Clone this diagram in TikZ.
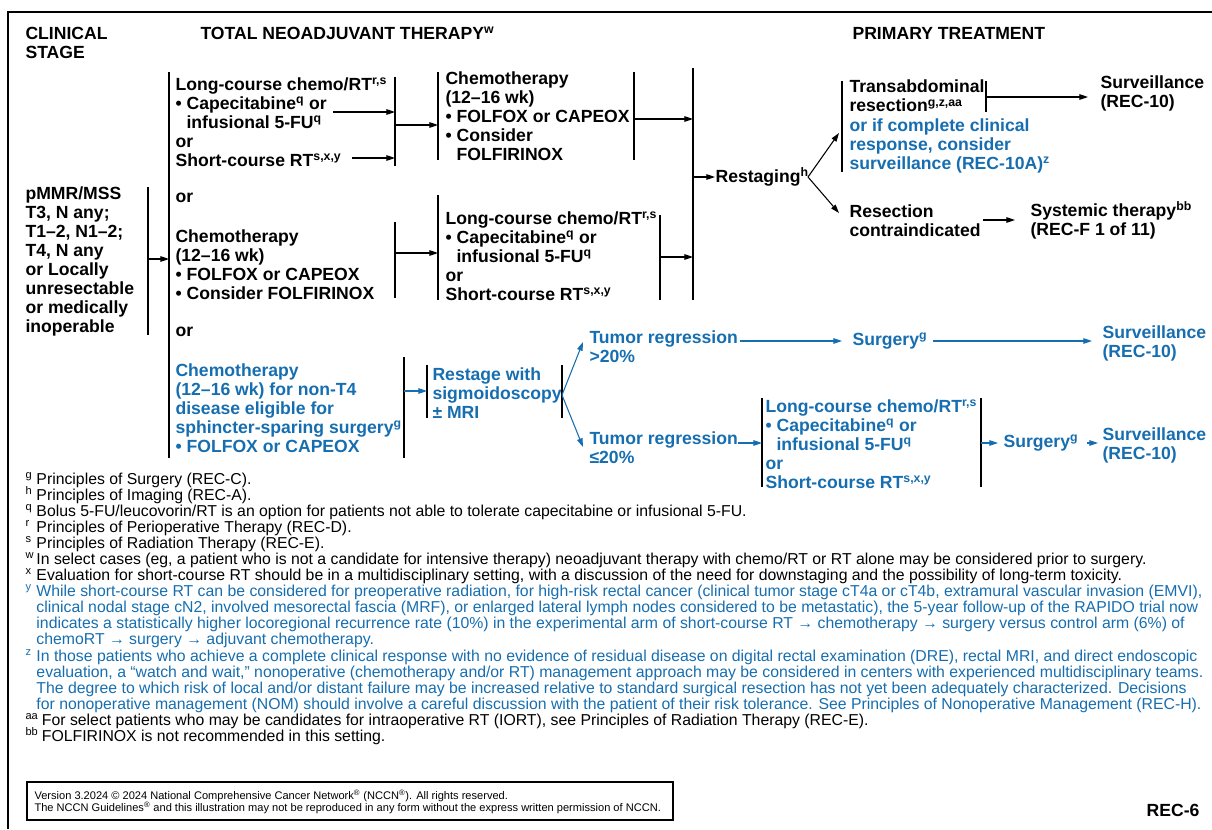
\documentclass[tikz,border=0pt]{standalone}
\usepackage{fontspec}
\setmainfont{Liberation Sans}
\usetikzlibrary{arrows.meta}
\definecolor{nccnblue}{RGB}{22,110,176}
\newcommand{\bul}{\textbullet\ }
\newcommand{\ind}{\hphantom{\textbullet\ }}
\newcommand{\fm}[1]{\makebox[8.2pt][l]{\textsuperscript{#1}}}
\newcommand{\fmw}[1]{\textsuperscript{#1}\hspace{2.6pt}}
\newcommand{\fnind}{\hspace*{8.2pt}}
\newcommand{\fnfont}{\fontsize{11.85}{12.05}\selectfont\lineskiplimit=-20pt\relax}

\begin{document}
\begin{tikzpicture}[x=0.75pt, y=-0.75pt, line width=0.8pt,
  txt/.style={anchor=west, align=left, inner sep=0pt, font=\fontsize{13.2}{14.3}\selectfont\bfseries},
  btxt/.style={txt, text=nccnblue},
  arr/.style={-{Triangle[length=6.5pt,width=4.2pt]}},
  bl/.style={draw=nccnblue}]
\useasboundingbox (0,0) rectangle (1212,829);

% frame
\draw[line width=1pt] (8,829) -- (8,12) -- (1212,12);

% headers
\node[txt] (hclin) at (25,42.5) {CLINICAL\\STAGE};
\node[txt] (htna) at (200,33) {TOTAL NEOADJUVANT THERAPY\textsuperscript{w}};
\node[txt] (hprim) at (852,33) {PRIMARY TREATMENT};

% clinical stage
\node[txt] (stage) at (25,261.5) {pMMR/MSS\\T3, N any;\\T1--2, N1--2;\\T4, N any\\or Locally\\unresectable\\or medically\\inoperable};
\draw (148,187) -- (148,335);
\draw (169,72) -- (169,458);
\coordinate (stg) at (148,259);
\coordinate (opt) at (169,259);
\draw[arr] (stg) -- (opt);

% option 1
\node[txt] (lc1) at (175,122) {Long-course chemo/RT\textsuperscript{r,s}\\\bul Capecitabine\textsuperscript{q} or\\\ind infusional 5-FU\textsuperscript{q}\\or\\Short-course RT\textsuperscript{s,x,y}};
\draw (395,77) -- (395,166);
\coordinate (cap) at (333,112);
\coordinate (scrt) at (352,158);
\draw[arr] (cap) -- (cap -| 395,0);
\draw[arr] (scrt) -- (scrt -| 395,0);
\node[txt] (chemo1) at (445,116) {Chemotherapy\\(12--16 wk)\\\bul FOLFOX or CAPEOX\\\bul Consider\\\ind FOLFIRINOX};
\draw (438,72) -- (438,160);
\draw (634,72) -- (634,160);
\coordinate (lc1r) at (395,125);
\coordinate (chemo1l) at (438,125);
\draw[arr] (lc1r) -- (chemo1l);

% option 2
\node[txt] (or1) at (175,198) {or};
\node[txt] (chemo2) at (175,265) {Chemotherapy\\(12--16 wk)\\\bul FOLFOX or CAPEOX\\\bul Consider FOLFIRINOX};
\draw (395,222) -- (395,298);
\node[txt] (lc2) at (445,256) {Long-course chemo/RT\textsuperscript{r,s}\\\bul Capecitabine\textsuperscript{q} or\\\ind infusional 5-FU\textsuperscript{q}\\or\\Short-course RT\textsuperscript{s,x,y}};
\draw (438,195) -- (438,300);
\draw (660,215) -- (660,300);
\coordinate (chemo2r) at (395,253);
\coordinate (lc2l) at (438,253);
\draw[arr] (chemo2r) -- (lc2l);

% restaging
\draw (693,68) -- (693,300);
\coordinate (chemo1r) at (634,119);
\coordinate (lc2r) at (660,257);
\draw[arr] (chemo1r) -- (chemo1r -| 693,0);
\draw[arr] (lc2r) -- (lc2r -| 693,0);
\node[txt] (restg) at (715,177) {Restaging\textsuperscript{h}};
\coordinate (collect) at (693,177);
\draw[arr] (collect) -- (restg.west);
\coordinate (fork) at (808,177);
\draw[arr] (fork) -- (839,133);
\draw[arr] (fork) -- (839,213);

% primary treatment
\node[txt] (transab) at (849,126.5) {Transabdominal\\resection\textsuperscript{g,z,aa}\\\color{nccnblue}or if complete clinical\\\color{nccnblue}response, consider\\\color{nccnblue}surveillance (REC-10A)\textsuperscript{z}};
\draw (842,81) -- (842,172);
\draw (986,81) -- (986,112);
\node[txt] (surv1) at (1100,93.5) {Surveillance\\(REC-10)};
\coordinate (transr) at (986,97);
\draw[arr] (transr) -- (1088,97);
\node[txt] (rci) at (849,220.5) {Resection\\contraindicated};
\node[txt] (syst) at (1030,220.5) {Systemic therapy\textsuperscript{bb}\\(REC-F 1 of 11)};
\coordinate (rcir) at (983,220);
\draw[arr] (rcir) -- (1015,220);

% option 3 (blue)
\node[txt] (or2) at (175,332) {or};
\node[btxt] (chemo3) at (175,408) {Chemotherapy\\(12--16 wk) for non-T4\\disease eligible for\\sphincter-sparing surgery\textsuperscript{g}\\\bul FOLFOX or CAPEOX};
\draw (404,357) -- (404,458);
\node[btxt] (rstg2) at (432,393) {Restage with\\sigmoidoscopy\\± MRI};
\draw (427,365) -- (427,418);
\draw (562,365) -- (562,418);
\coordinate (chemo3r) at (404,391);
\coordinate (rstg2l) at (427,391);
\draw[arr, bl] (chemo3r) -- (rstg2l);
\coordinate (fork2) at (562,395);
\draw[arr, bl] (fork2) -- (583,342);
\draw[arr, bl] (fork2) -- (583,447);
\node[btxt] (regup) at (589,347) {Tumor regression\\>20\%};
\node[btxt] (regdn) at (589,447.5) {Tumor regression\\≤20\%};
\node[btxt] (surgup) at (852,341) {Surgery\textsuperscript{g}};
\node[btxt] (survup) at (1102,343) {Surveillance\\(REC-10)};
\coordinate (regupr) at (740,341);
\draw[arr, bl] (regupr) -- (842,341);
\coordinate (surgupr) at (933,341);
\draw[arr, bl] (surgupr) -- (1092,341);
\node[btxt] (lc3) at (765,444) {Long-course chemo/RT\textsuperscript{r,s}\\\bul Capecitabine\textsuperscript{q} or\\\ind infusional 5-FU\textsuperscript{q}\\or\\Short-course RT\textsuperscript{s,x,y}};
\draw (762,398) -- (762,487);
\draw (981,398) -- (981,487);
\coordinate (regdnr) at (738,443);
\draw[arr, bl] (regdnr) -- (762,443);
\node[btxt] (surgdn) at (1003,443) {Surgery\textsuperscript{g}};
\node[btxt] (survdn) at (1102,445) {Surveillance\\(REC-10)};
\coordinate (lc3r) at (981,443);
\draw[arr, bl] (lc3r) -- (998,443);
\coordinate (surgdnr) at (1087,443);
\draw[arr, bl] (surgdnr) -- (1098,443);

% footnotes
\node[anchor=north west, align=left, inner sep=0pt, font=\fnfont] (notes) at (25,472) {%
\fm{g}Principles of Surgery (REC-C).\\
\fm{h}Principles of Imaging (REC-A).\\
\fm{q}Bolus 5-FU/leucovorin/RT is an option for patients not able to tolerate capecitabine or infusional 5-FU.\\
\fm{r}Principles of Perioperative Therapy (REC-D).\\
\fm{s}Principles of Radiation Therapy (REC-E).\\
\fm{w}In select cases (eg, a patient who is not a candidate for intensive therapy) neoadjuvant therapy with chemo/RT or RT alone may be considered prior to surgery.\\
\fm{x}Evaluation for short-course RT should be in a multidisciplinary setting, with a discussion of the need for downstaging and the possibility of long-term toxicity.\\
\color{nccnblue}\fm{y}While short-course RT can be considered for preoperative radiation, for high-risk rectal cancer (clinical tumor stage cT4a or cT4b, extramural vascular invasion (EMVI),\\
\color{nccnblue}\fnind clinical nodal stage cN2, involved mesorectal fascia (MRF), or enlarged lateral lymph nodes considered to be metastatic), the 5-year follow-up of the RAPIDO trial now\\
\color{nccnblue}\fnind indicates a statistically higher locoregional recurrence rate (10\%) in the experimental arm of short-course RT → chemotherapy → surgery versus control arm (6\%) of\\
\color{nccnblue}\fnind chemoRT → surgery → adjuvant chemotherapy.\\
\color{nccnblue}\fm{z}In those patients who achieve a complete clinical response with no evidence of residual disease on digital rectal examination (DRE), rectal MRI, and direct endoscopic\\
\color{nccnblue}\fnind evaluation, a “watch and wait,” nonoperative (chemotherapy and/or RT) management approach may be considered in centers with experienced multidisciplinary teams.\\
\color{nccnblue}\fnind The degree to which risk of local and/or distant failure may be increased relative to standard surgical resection has not yet been adequately characterized. Decisions\\
\color{nccnblue}\fnind for nonoperative management (NOM) should involve a careful discussion with the patient of their risk tolerance. See Principles of Nonoperative Management (REC-H).\\
\color{black}\fmw{aa}For select patients who may be candidates for intraoperative RT (IORT), see Principles of Radiation Therapy (REC-E).\\
\color{black}\fmw{bb}FOLFIRINOX is not recommended in this setting.};

% copyright box
\draw (27,782) rectangle (673,820);
\node[anchor=north west, align=left, inner sep=0pt, font=\fontsize{8.3}{9}\selectfont] (copy) at (34,790) {Version 3.2024 © 2024 National Comprehensive Cancer Network\textsuperscript{®} (NCCN\textsuperscript{®}). All rights reserved.\\The NCCN Guidelines\textsuperscript{®} and this illustration may not be reproduced in any form without the express written permission of NCCN.};
\node[txt, anchor=east] (pg) at (1200,810) {REC-6};
\end{tikzpicture}
\end{document}
